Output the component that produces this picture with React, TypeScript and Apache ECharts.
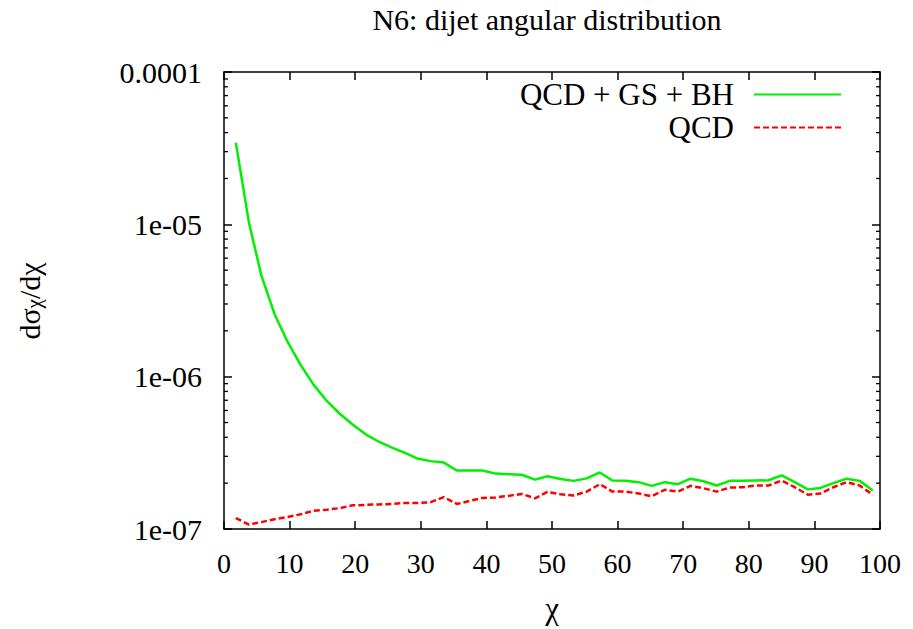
import React, { useEffect, useRef } from 'react';
import * as echarts from 'echarts';

// chi bin centres
const chi = [
  1.8, 3.8, 5.7, 7.7, 9.7, 11.7, 13.7, 15.7, 17.6, 19.6,
  21.6, 23.6, 25.6, 27.5, 29.5, 31.5, 33.5, 35.5, 37.5, 39.4,
  41.4, 43.4, 45.4, 47.4, 49.3, 51.3, 53.3, 55.3, 57.3, 59.2,
  61.2, 63.2, 65.2, 67.2, 69.2, 71.1, 73.1, 75.1, 77.1, 79.1,
  81.0, 83.0, 85.0, 87.0, 89.0, 90.9, 92.9, 94.9, 96.9, 98.9,
];

// dsigma/dchi, QCD + gravitational scattering + black holes
const qcdGsBh = [
  3.44e-5, 1.03e-5, 4.6e-6, 2.58e-6, 1.69e-6, 1.19e-6, 8.8e-7, 6.9e-7, 5.73e-7, 4.85e-7,
  4.18e-7, 3.74e-7, 3.42e-7, 3.17e-7, 2.9e-7, 2.79e-7, 2.73e-7, 2.42e-7, 2.42e-7, 2.42e-7,
  2.31e-7, 2.29e-7, 2.27e-7, 2.11e-7, 2.22e-7, 2.13e-7, 2.07e-7, 2.15e-7, 2.35e-7, 2.08e-7,
  2.07e-7, 2.03e-7, 1.92e-7, 2.03e-7, 1.97e-7, 2.14e-7, 2.06e-7, 1.93e-7, 2.07e-7, 2.07e-7,
  2.08e-7, 2.09e-7, 2.25e-7, 2.03e-7, 1.82e-7, 1.86e-7, 2.0e-7, 2.14e-7, 2.07e-7, 1.79e-7,
];

// dsigma/dchi, QCD only
const qcd = [
  1.18e-7, 1.07e-7, 1.11e-7, 1.16e-7, 1.2e-7, 1.25e-7, 1.32e-7, 1.34e-7, 1.37e-7, 1.43e-7,
  1.44e-7, 1.45e-7, 1.46e-7, 1.48e-7, 1.48e-7, 1.5e-7, 1.62e-7, 1.46e-7, 1.53e-7, 1.6e-7,
  1.61e-7, 1.65e-7, 1.7e-7, 1.59e-7, 1.75e-7, 1.69e-7, 1.66e-7, 1.76e-7, 1.97e-7, 1.76e-7,
  1.76e-7, 1.71e-7, 1.64e-7, 1.81e-7, 1.76e-7, 1.92e-7, 1.85e-7, 1.76e-7, 1.87e-7, 1.88e-7,
  1.93e-7, 1.93e-7, 2.08e-7, 1.88e-7, 1.68e-7, 1.71e-7, 1.88e-7, 2.03e-7, 1.93e-7, 1.68e-7,
];

const seriesNames = ['QCD + GS + BH', 'QCD'];
const yTickLabels = ['1e-07', '1e-06', '1e-05', '0.0001'];
const minorMantissas = [2, 3, 4, 5, 6, 7, 8, 9];
const minorDecades = [1e-7, 1e-6, 1e-5];
const yMinorTicks = minorDecades.flatMap((d) => minorMantissas.map((m) => m * d));

const FONT = '"Liberation Serif", "Times New Roman", serif';

export default function App() {
  const ref = useRef<HTMLDivElement>(null);

  useEffect(() => {
    if (!ref.current) return;
    const chart = echarts.init(ref.current, undefined, { renderer: 'svg' });

    const frame = { show: true, onZero: false, lineStyle: { color: '#000', width: 1.5 } };
    const majorTick = { show: true, inside: true, length: 8, lineStyle: { color: '#000', width: 1.5 } };

    chart.setOption({
      animation: false,
      backgroundColor: '#fff',
      grid: { left: 224, right: 33, top: 72, bottom: 98, containLabel: false },
      graphic: [
        {
          type: 'text',
          x: 547,
          y: 19,
          style: {
            text: 'N6: dijet angular distribution',
            fontFamily: FONT,
            fontSize: 30,
            fill: '#000',
            align: 'center',
            verticalAlign: 'middle',
          },
        },
        {
          type: 'text',
          x: 29,
          y: 301,
          rotation: Math.PI / 2,
          style: {
            text: '{n|dσ}{s|χ}{n|/dχ}',
            align: 'center',
            verticalAlign: 'middle',
            rich: {
              n: { fontFamily: FONT, fontSize: 30, fill: '#000', lineHeight: 30 },
              s: { fontFamily: FONT, fontSize: 21, fill: '#000', verticalAlign: 'bottom', lineHeight: 4 },
            },
          },
        },
      ],
      legend: {
        orient: 'vertical',
        align: 'right',
        right: 71,
        top: 79,
        padding: 0,
        itemGap: 2,
        itemWidth: 87,
        itemHeight: 31,
        selectedMode: false,
        data: seriesNames,
        itemStyle: { opacity: 0 },
        textStyle: {
          fontFamily: FONT,
          fontSize: 31,
          color: '#000',
          lineHeight: 31,
          padding: [0, 15, 0, 0],
        },
      },
      xAxis: [
        {
          type: 'value',
          min: 0,
          max: 100,
          interval: 10,
          position: 'bottom',
          name: 'χ',
          nameLocation: 'middle',
          nameGap: 64,
          nameTextStyle: { fontFamily: FONT, fontSize: 31, color: '#000' },
          axisLine: frame,
          axisTick: majorTick,
          splitLine: { show: false },
          axisLabel: { fontFamily: FONT, fontSize: 28, color: '#000', margin: 20 },
        },
        {
          type: 'value',
          min: 0,
          max: 100,
          interval: 10,
          position: 'top',
          axisLine: frame,
          axisTick: majorTick,
          splitLine: { show: false },
          axisLabel: { show: false },
        },
      ],
      yAxis: [
        {
          type: 'log',
          logBase: 10,
          min: 1e-7,
          max: 1e-4,
          interval: 1,
          position: 'left',
          axisLine: frame,
          axisTick: majorTick,
          splitLine: { show: false },
          minorTick: { show: false },
          axisLabel: {
            fontFamily: FONT,
            fontSize: 30,
            color: '#000',
            margin: 22,
            formatter: (v: number) => yTickLabels[Math.round(Math.log10(v)) + 7] ?? '',
          },
        },
        {
          type: 'log',
          logBase: 10,
          min: 1e-7,
          max: 1e-4,
          interval: 1,
          position: 'right',
          axisLine: frame,
          axisTick: majorTick,
          splitLine: { show: false },
          axisLabel: { show: false },
        },
      ],
      series: [
        {
          name: seriesNames[0],
          type: 'line',
          xAxisIndex: 0,
          yAxisIndex: 0,
          symbol: 'none',
          showSymbol: false,
          data: chi.map((x, i) => [x, qcdGsBh[i]]),
          lineStyle: { color: '#00f000', width: 2.5 },
          itemStyle: { color: '#00f000' },
          z: 3,
        },
        {
          name: seriesNames[1],
          type: 'line',
          xAxisIndex: 0,
          yAxisIndex: 0,
          symbol: 'none',
          showSymbol: false,
          data: chi.map((x, i) => [x, qcd[i]]),
          lineStyle: { color: '#ff0000', width: 2.5, type: [6, 3] },
          itemStyle: { color: '#ff0000' },
          z: 3,
        },
        {
          // minor log ticks on the left and right frame edges
          type: 'custom',
          xAxisIndex: 0,
          yAxisIndex: 0,
          silent: true,
          clip: false,
          data: yMinorTicks.map((v) => [0, v]),
          renderItem: (_params: any, api: any) => {
            const v = api.value(1);
            const pl = api.coord([0, v]);
            const pr = api.coord([100, v]);
            const st = { stroke: '#000', lineWidth: 1.3 };
            return {
              type: 'group',
              children: [
                { type: 'line', shape: { x1: pl[0], y1: pl[1], x2: pl[0] + 4, y2: pl[1] }, style: st },
                { type: 'line', shape: { x1: pr[0] - 4, y1: pr[1], x2: pr[0], y2: pr[1] }, style: st },
              ],
            };
          },
          z: 4,
        },
      ],
    });

    return () => chart.dispose();
  }, []);

  return (
    <div
      ref={ref}
      style={{ position: 'fixed', left: 0, top: 0, width: 913, height: 629, background: '#fff' }}
    />
  );
}
